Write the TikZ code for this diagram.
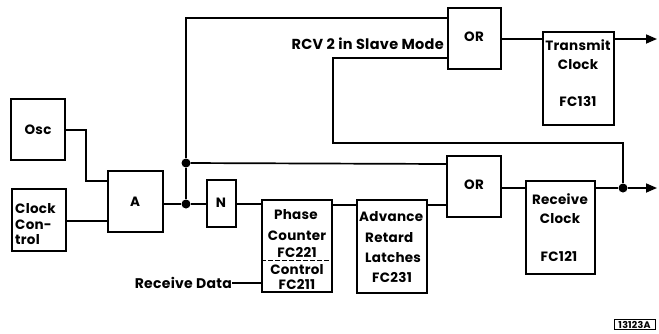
\documentclass[tikz,border=0pt]{standalone}
\usepackage{fontspec}
\setmainfont{Poppins}[LetterSpace=2]
\usetikzlibrary{arrows.meta}
\begin{document}
\begin{tikzpicture}[x=1pt,y=-1pt,
  blk/.style={draw,line width=1.7pt,inner sep=0pt},
  wire/.style={line width=1.7pt},
  arr/.style={line width=1.7pt,-{Triangle[length=11pt,width=9pt]}},
  dot/.style={circle,fill=black,inner sep=0pt,minimum size=9pt},
  txt/.style={inner sep=0pt,font=\fontsize{13.5}{13.5}\selectfont\bfseries},
  ltxt/.style={txt,anchor=west}]
\useasboundingbox (0,0) rectangle (659,333);
% boxes (corners)
\newcommand{\blkbox}[5]{\node[blk,minimum width=#4-#2,minimum height=#5-#3] (#1) at ({(#2+#4)/2},{(#3+#5)/2}) {};}
\blkbox{osc}{11}{99}{65}{160}
\blkbox{cc}{12}{189}{66}{251}
\blkbox{and}{108}{171}{163}{232}
\blkbox{inv}{207}{180}{236}{227}
\blkbox{pc}{262}{200}{332}{292}
\blkbox{adv}{357}{200}{427}{293}
\blkbox{ortop}{448}{8}{501}{69}
\blkbox{orbot}{447}{156}{501}{217}
\blkbox{tx}{543}{32}{614}{125}
\blkbox{rx}{526}{181}{595}{274}
\draw[line width=0.8pt,dash pattern=on 5pt off 2pt] (pc.west |- 0,260) -- (pc.east |- 0,260);
% texts
\node[txt] (tosc) at (38,130) {Osc};
\node[ltxt] (tcc1) at (15,209) {Clock};
\node[ltxt] (tcc2) at (15,225) {Con-};
\node[ltxt] (tcc3) at (15,240) {trol};
\node[txt] (tand) at (135,202) {A};
\node[txt] (tinv) at (221,203) {N};
\node[txt] (tpc1) at (296,215) {Phase};
\node[txt] (tpc2) at (297,236) {Counter};
\node[txt] (tpc3) at (297,252) {FC221};
\node[txt] (tpc4) at (297,270) {Control};
\node[txt] (tpc5) at (297,284) {FC211};
\node[ltxt] (tad1) at (359,217) {Advance};
\node[ltxt] (tad2) at (365,238) {Retard};
\node[ltxt] (tad3) at (365,258) {Latches};
\node[ltxt] (tad4) at (372,277) {FC231};
\node[txt] (tor1) at (474,37) {OR};
\node[txt] (tor2) at (474,185) {OR};
\node[txt] (ttx1) at (578,45) {Transmit};
\node[txt] (ttx2) at (578,65) {Clock};
\node[txt] (ttx3) at (578,101) {FC131};
\node[txt] (trx1) at (560,199) {Receive};
\node[txt] (trx2) at (560,219) {Clock};
\node[txt] (trx3) at (559,256) {FC121};
\node[txt,anchor=east,font=\fontsize{14.5}{14.5}\selectfont\bfseries] (rcv) at (444,44) {RCV 2 in Slave Mode};
\node[txt,anchor=east,font=\fontsize{14}{14}\selectfont\bfseries] (rd) at (232,283) {Receive Data};
\node[draw,line width=1pt,inner sep=0pt,minimum width=41pt,minimum height=10pt,font=\fontsize{9.5}{9.5}\selectfont\bfseries] (tag) at (634.5,324.5) {13123A};
% junctions
\node[dot] (d1) at (186,204) {};
\node[dot] (d2) at (186,163) {};
\node[dot] (d3) at (623,188) {};
\coordinate (c1) at (186,18);
\coordinate (c2) at (333,58);
\coordinate (c3) at (333,143);
\coordinate (c4) at (623,143);
\coordinate (o1) at (657,39);
\coordinate (o2) at (657,188);
% wires
\draw[wire] (osc.east |- 0,130) -| (86,181) -- (and.west |- 0,181);
\draw[wire] (cc.east |- 0,221) -- (and.west |- 0,221);
\draw[wire] (and.east |- d1) -- (d1) -- (inv.west |- d1);
\draw[wire] (inv.east |- d1) -- (pc.west |- d1);
\draw[wire] (d1) -- (d2) -- (c1) -- (ortop.west |- c1);
\draw[wire] (d2) -- (orbot.west |- 0,164);
\draw[wire] (pc.east |- 0,205) -- (adv.west |- 0,205);
\draw[wire] (adv.east |- 0,205) -- (orbot.west |- 0,205);
\draw[wire] (orbot.east |- d3) -- (rx.west |- d3);
\draw[arr] (rx.east |- d3) -- (d3) -- (o2);
\draw[wire] (d3) -- (c4) -- (c3) -- (c2) -- (ortop.west |- c2);
\draw[wire] (ortop.east |- o1) -- (tx.west |- o1);
\draw[arr] (tx.east |- o1) -- (o1);
\draw[wire] (rd.east) -- (pc.west |- rd.east);
\end{tikzpicture}
\end{document}
